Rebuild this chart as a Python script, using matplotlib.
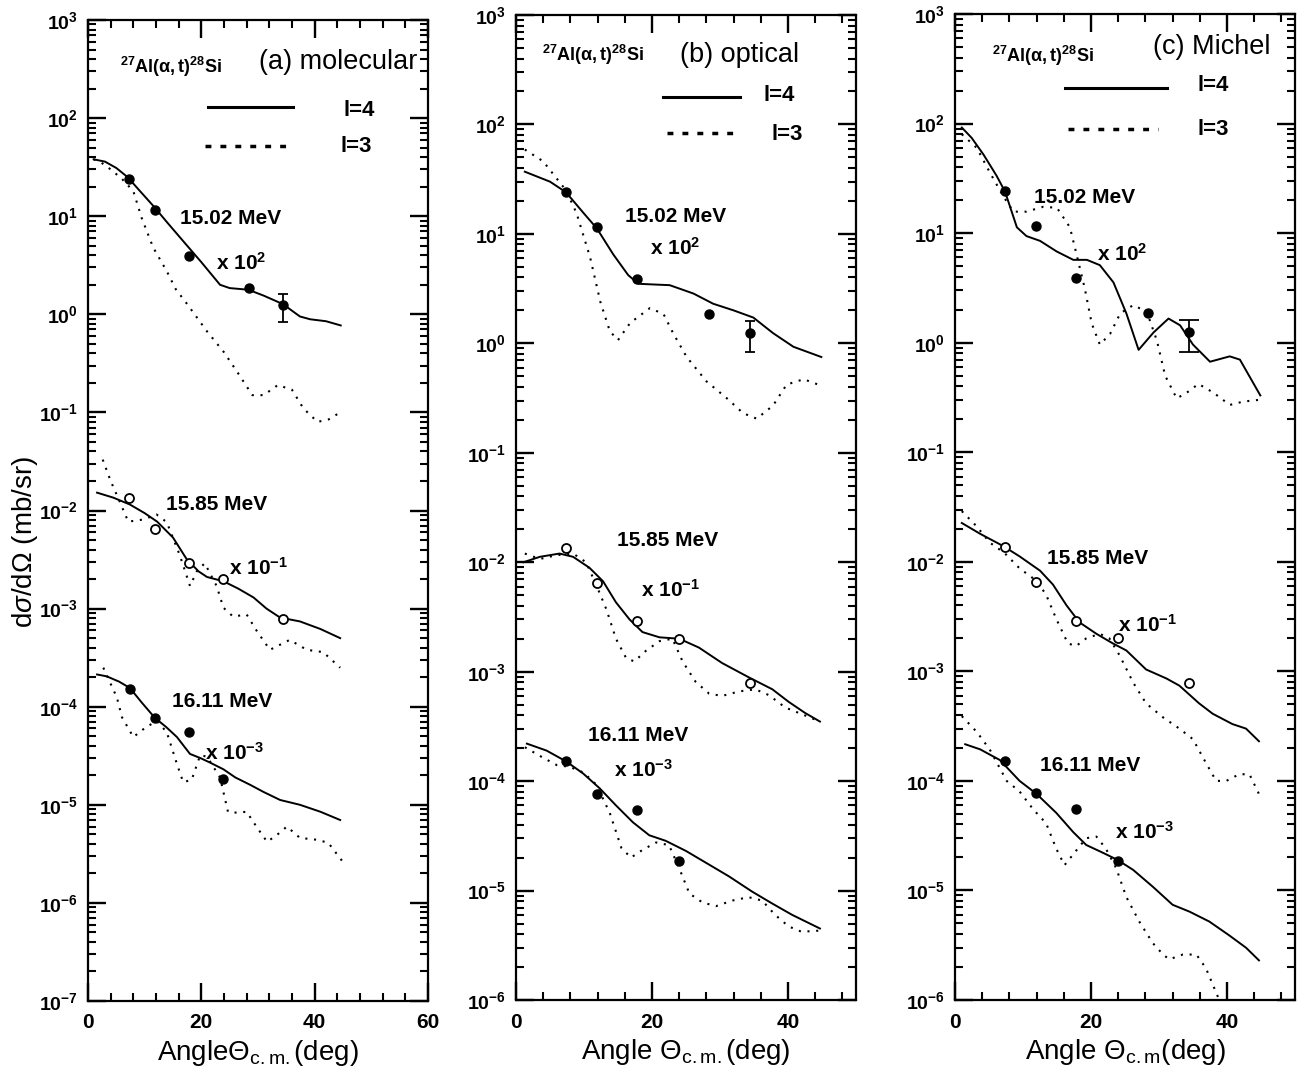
import numpy as np
import matplotlib
matplotlib.use("Agg")
import matplotlib.pyplot as plt
from matplotlib.ticker import FixedLocator, FuncFormatter, NullFormatter

plt.rcParams['font.family'] = ['Liberation Sans', 'DejaVu Sans']
plt.rcParams['mathtext.fontset'] = 'custom'
plt.rcParams['mathtext.rm'] = 'Liberation Sans'
plt.rcParams['mathtext.it'] = 'Liberation Sans:italic'
plt.rcParams['mathtext.bf'] = 'Liberation Sans:bold'

# ---------------- experimental data (shared) ----------------
exp_1502_x = [7.3, 11.9, 17.8, 28.4, 34.4]
exp_1502_y = [24.0, 11.5, 3.9, 1.85, 1.25]
exp_1502_err_x = [34.4]
exp_1502_err_y = [1.25]
exp_1502_err_lo = [0.42]
exp_1502_err_hi = [0.35]
exp_1585_x = [7.3, 11.9, 17.8, 23.9, 34.4]
exp_1585_y = [0.0135, 0.0065, 0.0029, 0.0020, 0.00078]
exp_1611_x = [7.4, 11.9, 17.8, 23.9]
exp_1611_y = [1.52e-4, 7.7e-5, 5.5e-5, 1.85e-5]

# ---------------- (a) molecular ----------------
a_1502_l4_x = [1, 3, 5, 7, 9, 11.7, 14, 17, 20, 23.3, 25, 28.3, 31, 34.4, 37.4, 39.2, 42, 44.6]
a_1502_l4_y = [38, 36, 31, 25, 18.5, 12.4, 8.6, 5.4, 3.4, 2.0, 1.85, 1.78, 1.55, 1.27, 0.95, 0.89, 0.85, 0.77]
a_1502_l3_x = [1, 2.4, 4, 6, 8, 9.5, 11.5, 13.9, 15.5, 17.5, 21, 24, 26.5, 29, 31, 33.5, 36, 38, 40.5, 42.5, 44.5]
a_1502_l3_y = [38, 35, 30, 24, 18, 9.5, 4.8, 2.75, 1.8, 1.27, 0.67, 0.41, 0.25, 0.15, 0.15, 0.19, 0.17, 0.11, 0.08, 0.085, 0.10]
a_1585_l4_x = [1.6, 4.5, 7.4, 10, 12.2, 15, 17.4, 19.5, 21, 23.9, 26.5, 29.2, 31.5, 33.9, 37.4, 41, 44.5]
a_1585_l4_y = [0.0152, 0.0135, 0.0115, 0.0094, 0.0077, 0.0053, 0.0032, 0.0024, 0.0021, 0.0019, 0.0016,
               0.0013, 0.001, 0.00081, 0.00074, 0.00062, 0.0005]
a_1585_l3_x = [2.6, 4, 5.6, 7.1, 9.8, 12.1, 13.9, 16.2, 18, 19.2, 20.6, 22.7, 23.9, 25.6, 28, 29.8, 32.1,
               35.6, 38.6, 41.5, 44.5]
a_1585_l3_y = [0.033, 0.02, 0.0123, 0.0077, 0.0081, 0.0091, 0.0076, 0.0035, 0.0017, 0.0024, 0.0029, 0.0017,
               0.00102, 0.00083, 0.00087, 0.00059, 0.00038, 0.00048, 0.00038, 0.00036, 0.00025]
a_1611_l4_x = [1.6, 3.3, 5.5, 7.4, 9.5, 11.8, 13.8, 15.7, 18, 19.8, 21.5, 23.9, 26, 28.6, 31, 33.9, 37.4, 41, 44.5]
a_1611_l4_y = [2.13e-4, 2.04e-4, 1.8e-4, 1.55e-4, 1.1e-4, 7.7e-5, 6.2e-5, 4.9e-5, 3.3e-5, 3.0e-5, 2.7e-5,
               2.3e-5, 1.9e-5, 1.6e-5, 1.35e-5, 1.12e-5, 1.0e-5, 8.5e-6, 7.0e-6]
a_1611_l3_x = [2.7, 5.1, 6, 8, 10.4, 12.2, 13.9, 15.7, 16.8, 18.3, 19.8, 21, 23.3, 24.7, 26.3, 28, 29.8,
               31.6, 33.3, 35.1, 37.4, 40.4, 42.4, 44.8]
a_1611_l3_y = [2.5e-4, 1.24e-4, 7.8e-5, 4.9e-5, 6.3e-5, 7.1e-5, 5.5e-5, 2.6e-5, 1.7e-5, 1.8e-5, 3.2e-5,
               3.1e-5, 1.9e-5, 8.5e-6, 8.3e-6, 8.5e-6, 5.9e-6, 4.2e-6, 4.9e-6, 6.0e-6, 4.6e-6, 4.4e-6,
               4.1e-6, 2.7e-6]

# ---------------- (b) optical ----------------
b_1502_l4_x = [1.3, 5, 7.35, 9.9, 11.9, 14.3, 16.5, 18, 20.2, 22.6, 26.1, 29, 32, 34.9, 37.8, 40.8, 44.9]
b_1502_l4_y = [37, 30, 24, 15.6, 11.2, 6.5, 4.2, 3.5, 3.45, 3.4, 2.85, 2.3, 2.0, 1.72, 1.24, 0.93, 0.75]
b_1502_l3_x = [1.3, 4, 7.35, 8.9, 10.9, 12.4, 13.8, 15, 16.8, 19.7, 21.7, 23.1, 25.1, 28, 31, 33.4, 35.4,
               37.8, 39.8, 42.3, 44.9]
b_1502_l3_y = [59, 46, 25, 15.5, 6.1, 2.4, 1.29, 1.07, 1.54, 2.1, 1.85, 1.24, 0.75, 0.45, 0.315, 0.23,
               0.205, 0.27, 0.42, 0.47, 0.41]
b_1585_l4_x = [1.1, 3.5, 6.4, 8.4, 10.8, 12.8, 14.7, 16.7, 18.6, 21.1, 24, 26.9, 30.3, 34.2, 37.7, 40.1, 42.5, 44.7]
b_1585_l4_y = [0.010, 0.0112, 0.0120, 0.0112, 0.0089, 0.0067, 0.0043, 0.0030, 0.0023, 0.00206, 0.0020,
               0.00166, 0.0012, 0.00089, 0.00069, 0.00053, 0.00042, 0.00035]
b_1585_l3_x = [1.3, 3.5, 5.95, 8.4, 10.3, 11.8, 13.3, 14.7, 16.2, 17.4, 19.1, 21.1, 23, 24.5, 26.4, 28.4,
               30.3, 32.8, 35.2, 37.2, 39.6, 42, 44.7]
b_1585_l3_y = [0.012, 0.0107, 0.0116, 0.012, 0.010, 0.0062, 0.0037, 0.0020, 0.00133, 0.00124, 0.00155,
               0.0019, 0.0020, 0.00124, 0.00081, 0.00063, 0.0006, 0.00066, 0.00069, 0.00061, 0.00047,
               0.00041, 0.00035]
b_1611_l4_x = [1.6, 4.5, 7.4, 9.9, 12.3, 14.7, 17.2, 19.6, 22, 25, 27.9, 31.3, 34.7, 37.7, 40.6, 44.7]
b_1611_l4_y = [2.2e-4, 1.9e-4, 1.51e-4, 1.17e-4, 8.6e-5, 6.0e-5, 4.2e-5, 3.2e-5, 2.85e-5, 2.3e-5, 1.8e-5,
               1.35e-5, 9.8e-6, 7.6e-6, 6.0e-6, 4.5e-6]
b_1611_l3_x = [1.3, 3.5, 6, 7.9, 9.9, 11.8, 13.8, 15.5, 16.9, 18.6, 20.6, 22.5, 24, 25.5, 27.4, 29.4, 31.8,
               34.2, 36.2, 38.1, 40.1, 42, 44.5]
b_1611_l3_y = [2.04e-4, 1.7e-4, 1.4e-4, 1.35e-4, 1.2e-4, 9.3e-5, 5.1e-5, 2.45e-5, 2.0e-5, 2.35e-5, 2.75e-5,
               2.6e-5, 1.6e-5, 9.4e-6, 7.8e-6, 7.2e-6, 8.1e-6, 8.7e-6, 8.1e-6, 6.0e-6, 4.7e-6, 4.2e-6, 4.3e-6]

# ---------------- (c) Michel ----------------
c_1502_l4_x = [1.0, 2.45, 4.2, 6.1, 7.35, 9.1, 10.5, 12.5, 14.95, 17.4, 19.4, 21.3, 23.3, 25.2, 27, 29.2,
               31.4, 33.1, 35, 37.5, 40.4, 41.9, 44.9]
c_1502_l4_y = [92, 74, 52, 33.5, 24, 11.3, 9.4, 8.5, 6.8, 5.7, 5.7, 5.1, 3.55, 1.85, 0.86, 1.24, 1.66, 1.44,
               0.96, 0.67, 0.75, 0.70, 0.33]
c_1502_l3_x = [1.0, 3.2, 5.1, 7.1, 8.6, 10.5, 13, 15, 16.9, 17.9, 19.1, 20.1, 21.3, 22.8, 24.3, 26.2, 28.2,
               29.7, 30.9, 32.6, 34.1, 35.8, 38, 40.4, 42.4, 44.6]
c_1502_l3_y = [80, 60, 36, 21.7, 15.7, 15.7, 17.4, 17, 11.3, 6.3, 3.1, 1.5, 0.96, 1.2, 1.85, 2.2, 1.92, 1.04,
               0.50, 0.31, 0.35, 0.42, 0.35, 0.27, 0.29, 0.30]
c_1585_l4_x = [1, 3.7, 7.1, 9.5, 12.5, 14.4, 16.4, 18.3, 20.8, 23.2, 25.2, 28.1, 31.1, 33, 35.9, 37.9, 40.8,
               42.8, 44.7]
c_1585_l4_y = [0.0226, 0.018, 0.0139, 0.0112, 0.0083, 0.0062, 0.0040, 0.0028, 0.0022, 0.0018, 0.00155,
               0.00104, 0.00086, 0.00074, 0.00051, 0.00041, 0.00033, 0.00030, 0.00023]
c_1585_l3_x = [1, 3.2, 5.1, 7.3, 9.5, 12, 13.4, 14.9, 16.6, 17.8, 19.3, 21.3, 22.7, 24.2, 26.2, 28.1, 30.6,
               33, 35, 36.4, 38.4, 39.9, 41.8, 43.3, 44.7]
c_1585_l3_y = [0.029, 0.021, 0.015, 0.012, 0.0087, 0.0067, 0.0050, 0.0030, 0.0018, 0.0017, 0.0020, 0.0022,
               0.0020, 0.0014, 0.00079, 0.00051, 0.00038, 0.00030, 0.00024, 0.000166, 0.0001, 0.0001,
               0.000115, 0.000115, 7.6e-5]
c_1611_l4_x = [1.5, 3.7, 6.6, 9.5, 12, 14.9, 17.4, 19.3, 21.8, 23.9, 26.2, 29.1, 32, 34.5, 37.4, 40.3, 42.8, 44.7]
c_1611_l4_y = [2.16e-4, 1.94e-4, 1.55e-4, 1.0e-4, 7.6e-5, 5.1e-5, 3.4e-5, 2.6e-5, 2.2e-5, 1.9e-5, 1.54e-5,
               1.08e-5, 7.4e-6, 6.4e-6, 5.2e-6, 3.9e-6, 3.0e-6, 2.3e-6]
c_1611_l3_x = [1, 3.2, 5.1, 7.6, 9.5, 11.5, 13.4, 14.9, 16.1, 17.8, 19.3, 20.8, 22.2, 23.7, 25.2, 27.1, 29.1,
               30.6, 31.5, 33.5, 35.5, 36.9, 38.4, 39.4]
c_1611_l3_y = [3.9e-4, 2.8e-4, 1.94e-4, 1.0e-4, 8.0e-5, 5.5e-5, 4.1e-5, 2.4e-5, 1.7e-5, 2.3e-5, 3.0e-5,
               3.1e-5, 2.4e-5, 1.6e-5, 8.7e-6, 5.2e-6, 3.3e-6, 2.6e-6, 2.35e-6, 2.6e-6, 2.6e-6, 1.95e-6,
               1.17e-6, 8.3e-7]

panel_titles = ["(a) molecular", "(b) optical", "(c) Michel"]
xlabels = [r"Angle$\Theta_{\rm c.m.}$(deg)", r"Angle $\Theta_{\rm c.m.}$(deg)", r"Angle $\Theta_{\rm c.m}$(deg)"]
reaction = r"$\mathbf{{}^{27}Al(\alpha,t){}^{28}Si}$"
energy_labels = ["15.02 MeV", "15.85 MeV", "16.11 MeV"]
scale_labels = [r"$\mathbf{x\ 10^{2}}$", r"$\mathbf{x\ 10^{-1}}$", r"$\mathbf{x\ 10^{-3}}$"]
legend_labels = ["l=4", "l=3"]

# ---------------- layout ----------------
W, H = 1306, 1079
fig = plt.figure(figsize=(W / 100, H / 100), dpi=100, facecolor='white')
boxes = [(88, 428, 20, 1001), (516, 856, 15, 1000), (955, 1295, 14, 1000)]
ylims = [(1e-7, 1e3), (1e-6, 1e3), (1e-6, 1e3)]
xlims = [60, 50, 50]

# text positions in axes fraction (x, y)
txt_pos = [
    dict(react=(0.244, 0.952), title=(0.735, 0.957), l4line=(0.353, 0.603, 0.911), l4=(0.797, 0.908),
         l3line=(0.345, 0.603, 0.872), l3=(0.788, 0.871),
         e=[(0.418, 0.798), (0.379, 0.506), (0.394, 0.305)], s=[(0.45, 0.752), (0.50, 0.442), (0.432, 0.253)]),
    dict(react=(0.226, 0.959), title=(0.659, 0.959), l4line=(0.432, 0.659, 0.917), l4=(0.774, 0.918),
         l3line=(0.444, 0.653, 0.880), l3=(0.797, 0.879),
         e=[(0.468, 0.795), (0.447, 0.466), (0.359, 0.269)], s=[(0.468, 0.764), (0.453, 0.416), (0.376, 0.234)]),
    dict(react=(0.259, 0.957), title=(0.756, 0.967), l4line=(0.324, 0.624, 0.925), l4=(0.759, 0.927),
         l3line=(0.332, 0.597, 0.883), l3=(0.759, 0.883),
         e=[(0.382, 0.814), (0.418, 0.448), (0.397, 0.238)], s=[(0.491, 0.757), (0.565, 0.38), (0.556, 0.171)]),
]

curves = [
    [(a_1502_l4_x, a_1502_l4_y, a_1502_l3_x, a_1502_l3_y),
     (a_1585_l4_x, a_1585_l4_y, a_1585_l3_x, a_1585_l3_y),
     (a_1611_l4_x, a_1611_l4_y, a_1611_l3_x, a_1611_l3_y)],
    [(b_1502_l4_x, b_1502_l4_y, b_1502_l3_x, b_1502_l3_y),
     (b_1585_l4_x, b_1585_l4_y, b_1585_l3_x, b_1585_l3_y),
     (b_1611_l4_x, b_1611_l4_y, b_1611_l3_x, b_1611_l3_y)],
    [(c_1502_l4_x, c_1502_l4_y, c_1502_l3_x, c_1502_l3_y),
     (c_1585_l4_x, c_1585_l4_y, c_1585_l3_x, c_1585_l3_y),
     (c_1611_l4_x, c_1611_l4_y, c_1611_l3_x, c_1611_l3_y)],
]
capsizes = [3.5, 3.5, 7]

dot_style = (0, (1, 3.2))


def fmt(v, p):
    k = int(round(np.log10(v)))
    return r"$\mathbf{10^{%d}}$" % k


for i, (l, r, t, b) in enumerate(boxes):
    ax = fig.add_axes([l / W, 1 - b / H, (r - l) / W, (b - t) / H])
    ax.set_facecolor('none')
    ax.set_axisbelow(False)
    ax.set_yscale('log')
    ax.set_ylim(*ylims[i])
    ax.set_xlim(0, xlims[i])
    lo, hi = [int(round(np.log10(v))) for v in ylims[i]]
    ax.yaxis.set_major_locator(FixedLocator([10.0 ** k for k in range(lo, hi + 1)]))
    ax.yaxis.set_minor_locator(FixedLocator([m * 10.0 ** k for k in range(lo, hi) for m in range(2, 10)]))
    ax.yaxis.set_major_formatter(FuncFormatter(fmt))
    ax.yaxis.set_minor_formatter(NullFormatter())
    ax.xaxis.set_major_locator(FixedLocator(list(range(0, xlims[i] + 1, 20))))
    ax.xaxis.set_minor_locator(FixedLocator(list(range(0, xlims[i] + 1, 4))))
    ax.xaxis.set_minor_formatter(NullFormatter())
    ax.tick_params(which='both', direction='in', top=True, right=True, bottom=True, left=True,
                   color='black')
    ax.tick_params(which='major', length=13, width=1.7)
    ax.tick_params(which='minor', length=6, width=1.5)
    ax.tick_params(axis='y', which='major', labelsize=14, pad=7)
    ax.tick_params(axis='x', which='major', labelsize=15, pad=9)
    for lab in ax.get_xticklabels():
        lab.set_fontweight('bold')
    for sp in ax.spines.values():
        sp.set_linewidth(1.6)

    for j, (x4, y4, x3, y3) in enumerate(curves[i]):
        ax.plot(x4, y4, color='black', lw=1.4, solid_joinstyle='round')
        ax.plot(x3, y3, color='black', lw=1.5, linestyle=dot_style)

    ax.plot(exp_1502_x, exp_1502_y, 'o', ms=6.5, color='black')
    ax.errorbar(exp_1502_err_x, exp_1502_err_y, yerr=[exp_1502_err_lo, exp_1502_err_hi], fmt='none',
                ecolor='black', elinewidth=1.3, capsize=capsizes[i], capthick=1.3)
    ax.plot(exp_1585_x, exp_1585_y, 'o', ms=6.5, mfc='white', mec='black', mew=1.3)
    ax.plot(exp_1611_x, exp_1611_y, 'o', ms=6.5, color='black')

    tp = txt_pos[i]
    ax.text(*tp['react'], reaction, transform=ax.transAxes, ha='center', va='center', fontsize=13)
    ax.text(*tp['title'], panel_titles[i], transform=ax.transAxes, ha='center', va='center', fontsize=19.5)
    x0, x1, yy = tp['l4line']
    ax.plot([x0, x1], [yy, yy], transform=ax.transAxes, color='black', lw=2.2)
    x0, x1, yy = tp['l3line']
    ax.plot([x0, x1], [yy, yy], transform=ax.transAxes, color='black', lw=2.5, linestyle=(0, (1.7, 2.6)))
    ax.text(*tp['l4'], legend_labels[0], transform=ax.transAxes, ha='center', va='center', fontsize=16,
            fontweight='bold')
    ax.text(*tp['l3'], legend_labels[1], transform=ax.transAxes, ha='center', va='center', fontsize=16,
            fontweight='bold')
    for j in range(3):
        ax.text(*tp['e'][j], energy_labels[j], transform=ax.transAxes, ha='center', va='center', fontsize=15,
                fontweight='bold')
        ax.text(*tp['s'][j], scale_labels[j], transform=ax.transAxes, ha='center', va='center', fontsize=15)

    ax.set_xlabel(xlabels[i], fontsize=20, labelpad=4)

fig.text(25 / W, 1 - 542 / H, r"d$\sigma$/d$\Omega$ (mb/sr)", rotation=90, ha='center', va='center', fontsize=20)

fig.savefig("out.png", dpi=100, facecolor='white')
